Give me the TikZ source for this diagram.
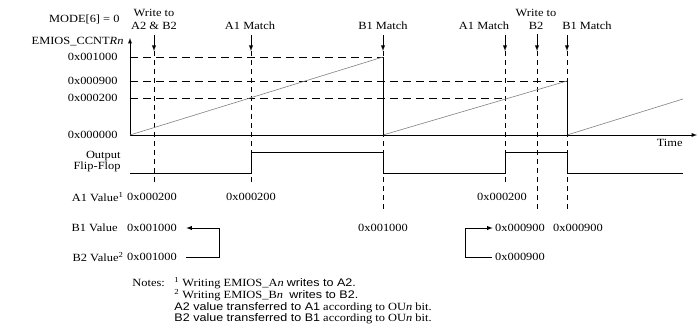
\documentclass[tikz,border=0pt]{standalone}
\usepackage{fontspec}
\setmainfont{Liberation Serif}[FakeStretch=1.13]
\newfontfamily\notesans{Liberation Sans}[FakeStretch=1.14]

\tikzset{
  lbl/.style={font=\fontsize{11}{11}\selectfont, inner sep=1pt},
  ramp/.style={gray, line width=0.6pt},
  level/.style={dash pattern=on 8pt off 5pt},
  event/.style={dash pattern=on 5pt off 4pt},
}

\begin{document}
\begin{tikzpicture}[>=latex,x=1pt,y=-1pt,line width=0.9pt]
  \useasboundingbox (0,0) rectangle (698,334);

  % axes of the counter
  \draw[->] (130,135) -- (130,38);
  \draw[->] (130,135) -- (697,135);
  \node[lbl,anchor=north east] (time) at (684,138) {Time};
  \node[lbl,anchor=east] (mode) at (121,19) {MODE[6] = 0};
  \node[lbl,anchor=east] (cntr) at (125,42) {EMIOS\_CCNT\textit{Rn}};
  \node[lbl,anchor=east] (l1000) at (119,57) {0x001000};
  \node[lbl,anchor=east] (l0900) at (119,81) {0x000900};
  \node[lbl,anchor=east] (l0200) at (119,98) {0x000200};
  \node[lbl,anchor=east] (l0000) at (119,135) {0x000000};

  % events
  \coordinate (ea) at (154,51);
  \coordinate (eb) at (251,51);
  \coordinate (ec) at (383,51);
  \coordinate (ed) at (505,51);
  \coordinate (ee) at (537,51);
  \coordinate (ef) at (567,51);
  \node[lbl,anchor=base] (wa1) at (154,17) {Write to};
  \node[lbl,anchor=base] (wa) at (154,30) {A2 \& B2};
  \node[lbl,anchor=base] (ma) at (250,30) {A1 Match};
  \node[lbl,anchor=base] (mb) at (383,30) {B1 Match};
  \node[lbl,anchor=base] (mc) at (484,30) {A1 Match};
  \node[lbl,anchor=base] (wb1) at (536,17) {Write to};
  \node[lbl,anchor=base] (wb) at (536,30) {B2};
  \node[lbl,anchor=base] (md) at (587,30) {B1 Match};
  \foreach \n/\e/\y in {wa/ea/182,ma/eb/182,mb/ec/212,mc/ed/182,wb/ee/212,md/ef/212} {
    \draw[->,shorten <=3pt] (\n.south -| \e) -- (\e);
    \draw[event] (\e) -- (\e |- 0,\y);
  }

  % compare levels
  \draw[level] (130,57) -- (383,57);
  \draw[level] (130,81) -- (567,81);
  \draw[level] (130,98) -- (505,98);

  % counter ramps
  \draw[ramp] (130,135) -- (383,57);
  \draw[ramp] (383,135) -- (567,81);
  \draw[ramp] (567,135) -- (683,99);
  \draw (383,57) -- (383,135);
  \draw (567,81) -- (567,135);

  % output flip-flop
  \node[lbl,anchor=east,align=right] (ff) at (122,162) {Output\\Flip-Flop};
  \draw (130,173) -- (251,173) -- (251,152) -- (383,152) -- (383,173)
    -- (505,173) -- (505,152) -- (567,152) -- (567,173) -- (683,173);

  % register values
  \node[lbl,anchor=east] (a1) at (120,197) {A1 Value\rlap{\textsuperscript{1}}};
  \node[lbl,anchor=east] (b1) at (119,228) {B1 Value};
  \node[lbl,anchor=east] (b2) at (120,257) {B2 Value\rlap{\textsuperscript{2}}};
  \node[lbl] (a1a) at (152,197) {0x000200};
  \node[lbl] (a1b) at (251,197) {0x000200};
  \node[lbl] (a1c) at (502,197) {0x000200};
  \node[lbl] (b1a) at (152,228) {0x001000};
  \node[lbl] (b1b) at (383,228) {0x001000};
  \node[lbl] (b1c) at (520,228) {0x000900};
  \node[lbl] (b1d) at (578,228) {0x000900};
  \node[lbl] (b2a) at (152,257) {0x001000};
  \node[lbl] (b2c) at (520,257) {0x000900};
  \draw[->,shorten <=8pt,shorten >=8pt] (b2a.east) -- ++(41,0) |- (b1a.east);
  \draw[->,shorten <=2pt,shorten >=1pt] (b2c.west) -- ++(-28,0) |- (b1c.west);

  % notes
  \node[lbl,anchor=base west,inner sep=0pt] (notes) at (132,286) {Notes:};
  \node[lbl,anchor=north west,inner sep=0pt,align=left,font=\fontsize{11}{10}\selectfont]
    (notetext) at (174,277) {%
    \textsuperscript{1} Writing EMIOS\_A\textit{n} {\notesans writes to A2.}\\
    \textsuperscript{2} Writing EMIOS\_B\textit{n}\ \ {\notesans writes to B2.}\\
    {\notesans A2 value transferred to A1} according to OU\textit{n} bit.\\
    {\notesans B2 value transferred to B1} according to OU\textit{n} bit.};
\end{tikzpicture}
\end{document}
